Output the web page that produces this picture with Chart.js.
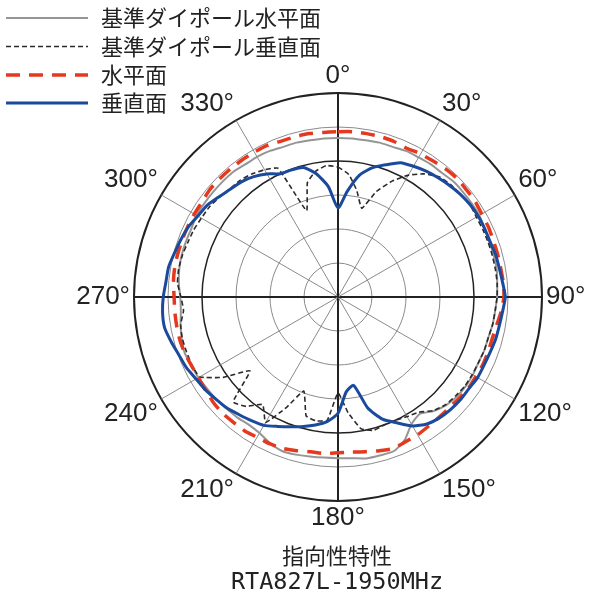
<!DOCTYPE html>
<html><head><meta charset="utf-8">
<script src="https://cdn.jsdelivr.net/npm/chart.js@4.4.1/dist/chart.umd.min.js"></script>
<style>html,body{margin:0;padding:0;background:#fff}</style>
</head><body>
<canvas id="c" width="600" height="600"></canvas>
<script>
// Angles (degrees, clockwise from top)
const angles = [0,5,10,15,20,25,30,35,40,45,50,55,60,65,70,75,80,85,90,95,100,105,110,115,
  120,125,130,135,140,145,150,155,160,165,170,175,180,185,190,195,200,205,210,215,220,225,230,235,
  240,245,250,255,260,265,270,275,280,285,290,295,300,305,310,315,320,325,330,335,340,345,350,355];
const angleLabels = angles.map(a => a + '°');

// Relative level (dB, outer ring = 0 dB, 5 dB per ring)
const refDipoleH = [
  -6.6,-6.6,-6.6,-6.5,-6.5,-6.3,-6.3,-6.2,-6.2,-6.0,-6.0,-6.0,
  -6.0,-6.2,-6.3,-6.3,-6.3,-6.5,-6.6,-6.8,-6.9,-7.1,-7.1,-7.2,
  -7.1,-7.1,-7.2,-7.5,-8.1,-9.0,-8.4,-6.8,-5.9,-5.9,-5.9,-6.2,
  -6.3,-6.3,-6.2,-6.0,-5.9,-6.3,-6.9,-7.1,-6.9,-6.8,-6.6,-6.5,
  -6.3,-6.2,-6.0,-6.2,-6.5,-6.8,-6.8,-6.5,-6.3,-6.2,-6.2,-6.2,
  -6.0,-6.0,-6.0,-6.0,-6.0,-6.2,-6.2,-6.3,-6.5,-6.5,-6.6,-6.6];
const refDipoleV = [
  -10.9,-11.9,-14.1,-16.5,-13.5,-11.2,-9.3,-7.9,-6.9,-6.6,-6.5,-6.3,
  -6.5,-6.5,-6.5,-6.5,-6.5,-6.5,-6.6,-6.8,-6.9,-7.1,-7.1,-7.2,
  -7.2,-7.2,-7.4,-7.6,-8.2,-9.3,-9.7,-10.0,-10.0,-9.7,-10.3,-12.9,
  -15.9,-11.8,-11.5,-11.9,-15.3,-12.1,-8.7,-10.7,-9.0,-8.2,-13.1,-9.4,
  -6.5,-6.3,-6.3,-6.3,-6.5,-7.2,-6.9,-6.3,-6.2,-6.3,-6.5,-6.6,
  -6.8,-6.9,-7.2,-7.5,-7.6,-7.9,-8.4,-9.1,-16.5,-12.6,-11.2,-10.6];
const horizontal = [
  -5.7,-5.6,-5.6,-5.6,-5.7,-5.9,-5.7,-5.6,-5.4,-5.3,-5.4,-5.4,
  -5.6,-5.6,-5.7,-5.7,-5.7,-5.6,-5.6,-5.9,-6.3,-6.5,-6.5,-6.5,
  -6.6,-6.6,-6.8,-6.9,-6.9,-6.8,-6.6,-6.5,-6.3,-6.6,-6.9,-7.1,
  -7.1,-6.9,-6.9,-6.6,-6.3,-6.2,-6.2,-6.0,-6.0,-5.9,-6.0,-6.2,
  -6.3,-6.2,-6.0,-5.9,-5.9,-5.9,-5.9,-5.7,-5.6,-5.6,-5.6,-5.6,
  -5.6,-5.6,-5.4,-5.4,-5.4,-5.4,-5.4,-5.4,-5.6,-5.6,-5.6,-5.7];
const vertical = [
  -16.9,-14.4,-11.8,-10.3,-9.3,-8.2,-7.8,-7.4,-7.1,-6.8,-6.5,-6.3,
  -6.2,-6.2,-6.2,-6.0,-5.9,-5.7,-5.4,-5.7,-5.9,-6.0,-6.2,-6.3,
  -6.3,-6.5,-6.5,-6.6,-6.8,-7.2,-8.1,-9.6,-10.9,-13.1,-16.8,-16.0,
  -12.9,-11.6,-10.9,-10.3,-9.7,-9.0,-8.2,-7.8,-7.4,-6.9,-6.6,-6.2,
  -5.9,-5.4,-5.1,-4.6,-4.1,-4.1,-4.3,-4.6,-4.7,-5.1,-5.4,-5.7,
  -6.2,-6.5,-7.1,-7.6,-7.9,-8.4,-9.1,-10.0,-10.1,-10.3,-11.6,-13.7];

const seriesNames = ['基準ダイポール水平面', '基準ダイポール垂直面', '水平面', '垂直面'];
const titleLines = ['指向性特性', 'RTA827L-1950MHz'];

// Legend at top-left corner and caption below the plot
const cornerLegend = {
  id: 'cornerLegend',
  afterDraw(chart) {
    const ctx = chart.ctx;
    ctx.save();
    const rows = [18, 46.5, 75, 103];
    chart.data.datasets.forEach((ds, i) => {
      const y = rows[i];
      ctx.beginPath();
      ctx.setLineDash(ds.borderDash || []);
      ctx.strokeStyle = ds.borderColor;
      ctx.lineWidth = ds.borderWidth;
      ctx.moveTo(6, y);
      ctx.lineTo(88, y);
      ctx.stroke();
      ctx.setLineDash([]);
      ctx.fillStyle = '#222';
      ctx.font = '22px "Noto Sans CJK JP"';
      ctx.textBaseline = 'middle';
      ctx.textAlign = 'left';
      ctx.fillText(ds.label, 101, y);
    });
    ctx.textAlign = 'center';
    ctx.textBaseline = 'middle';
    ctx.font = '22px "Noto Sans CJK JP"';
    ctx.fillText(titleLines[0], 337, 556);
    ctx.font = '23.5px "DejaVu Sans Mono"';
    ctx.fillText(titleLines[1], 337, 583);
    ctx.restore();
  }
};

new Chart(document.getElementById('c'), {
  type: 'radar',
  data: {
    labels: angleLabels,
    datasets: [
      { label: seriesNames[0], data: refDipoleH, borderColor: '#959595', borderWidth: 2, borderDash: [], fill: false, tension: 0.2, order: 4 },
      { label: seriesNames[1], data: refDipoleV, borderColor: '#2a2a2a', borderWidth: 1.6, borderDash: [5, 3], fill: false, tension: 0.12, order: 3 },
      { label: seriesNames[2], data: horizontal, borderColor: '#e5391f', borderWidth: 3.5, borderDash: [14, 9], fill: false, tension: 0.2, order: 2 },
      { label: seriesNames[3], data: vertical, borderColor: '#1b4a9c', borderWidth: 3, borderDash: [], fill: false, tension: 0.2, order: 1 }
    ]
  },
  options: {
    responsive: false,
    animation: false,
    layout: { padding: { left: 62, right: 0, top: 63, bottom: 69 } },
    elements: { point: { radius: 0, hoverRadius: 0 } },
    scales: {
      r: {
        min: -30, max: 0,
        ticks: { stepSize: 5, display: false },
        grid: {
          circular: true,
          color: c => (c.tick.value === -30 ? 'rgba(0,0,0,0)' : (c.tick.value === -10 || c.tick.value === 0) ? '#222' : '#8a8a8a'),
          lineWidth: c => (c.tick.value === -30 ? 0 : c.tick.value === 0 ? 2 : c.tick.value === -10 ? 1.5 : 1)
        },
        angleLines: {
          color: c => (c.index % 18 === 0 ? '#222' : '#8a8a8a'),
          lineWidth: c => (c.index % 18 === 0 ? 2 : c.index % 6 === 0 ? 1 : 0)
        },
        pointLabels: {
          font: { family: 'Liberation Sans', size: 26, lineHeight: 1 },
          color: '#222',
          padding: 4,
          callback: (label, index) => (index % 6 === 0 ? label : '')
        }
      }
    },
    plugins: {
      legend: { display: false },
      tooltip: { enabled: false },
      title: { display: false },
      subtitle: { display: false }
    }
  },
  plugins: [cornerLegend]
});
</script>
</body></html>
